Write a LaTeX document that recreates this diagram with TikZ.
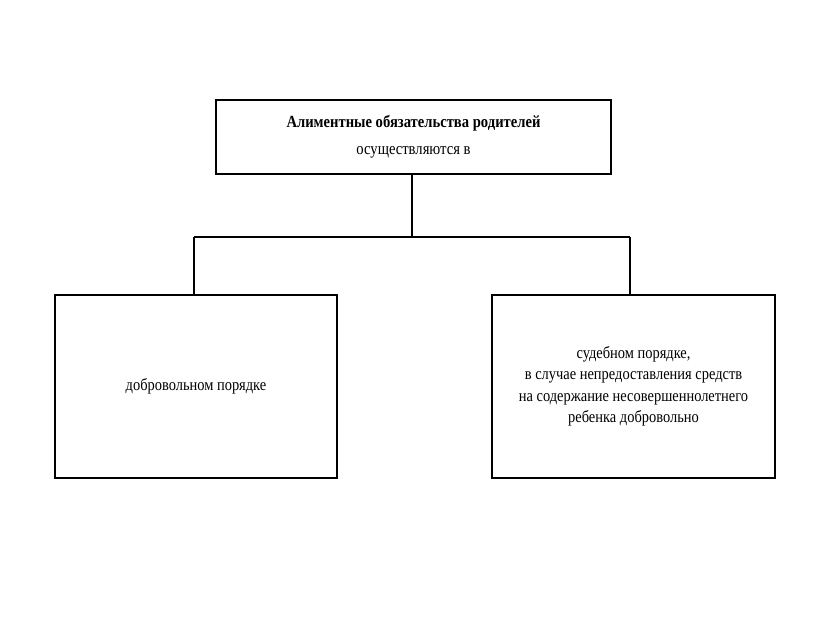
\documentclass[tikz,border=0pt]{standalone}
\usepackage{fontspec}
\setmainfont{Liberation Serif}[FakeStretch=0.86]
\begin{document}
\begin{tikzpicture}[x=1pt,y=-1pt,
  box/.style={draw, line width=2pt, inner sep=0pt, align=center},
  conn/.style={line width=2pt}]
\useasboundingbox (0,0) rectangle (831,623);
\node[box, minimum width=395pt, minimum height=74pt, font=\fontsize{17}{27}\selectfont] (top) at (413.5,137) {\textbf{Алиментные обязательства родителей}\\осуществляются в};
\node[box, minimum width=282pt, minimum height=183pt, font=\fontsize{16.8}{21.5}\selectfont] (left) at (196,386.5) {добровольном порядке};
\node[box, minimum width=283pt, minimum height=183pt, font=\fontsize{16.8}{21.5}\selectfont] (right) at (633.5,386.5) {судебном порядке,\\в случае непредоставления средств\\на содержание несовершеннолетнего\\ребенка добровольно};
\coordinate (j) at (412,237);
\coordinate (jl) at (194,237);
\coordinate (jr) at (630,237);
\draw[conn] (top.south -| j) -- (j);
\draw[conn] (jl) -- (jr);
\draw[conn] (jl) -- (jl |- left.north);
\draw[conn] (jr) -- (jr |- right.north);
\end{tikzpicture}
\end{document}
